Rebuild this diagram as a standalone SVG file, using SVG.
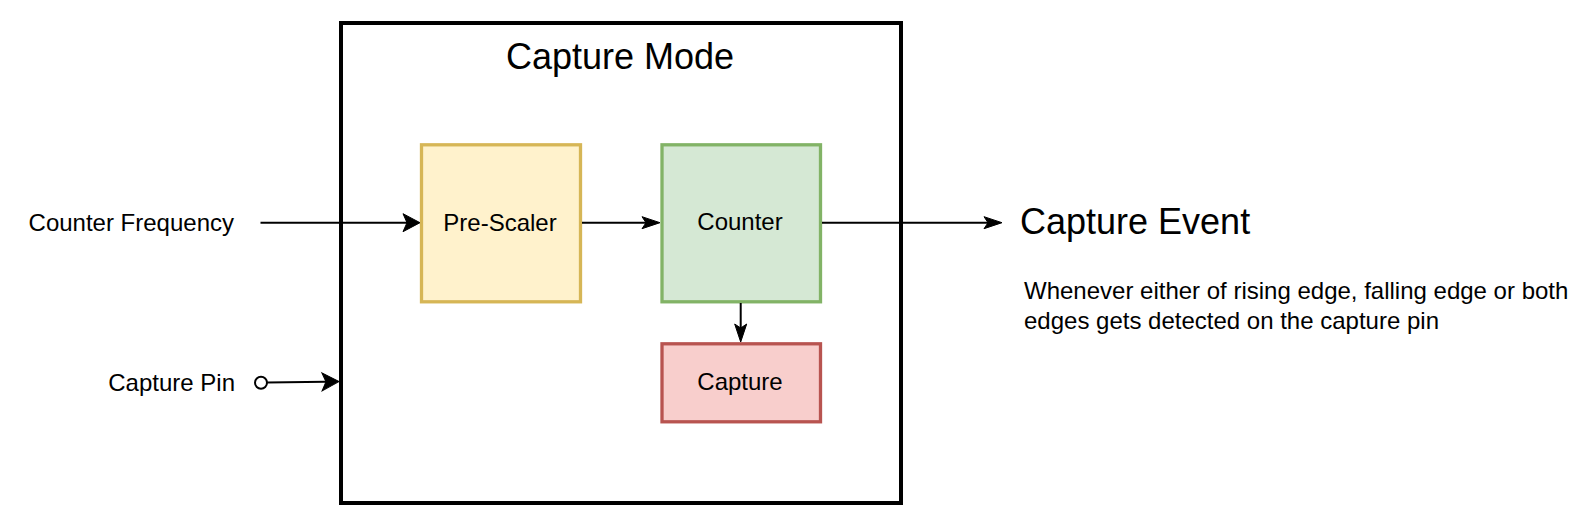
<svg xmlns="http://www.w3.org/2000/svg" width="1590" height="524" viewBox="0 0 1590 524">
<style>
text { font-family: "Liberation Sans", Arial, sans-serif; fill: #000; }
.lbl { font-size: 24px; }
.big { font-size: 36px; }
.edge { stroke: #000; stroke-width: 2; fill: none; }
.box { stroke-width: 3.3; }
</style>
<defs>
<marker id="aBig" markerUnits="userSpaceOnUse" markerWidth="20" markerHeight="20" viewBox="-5 -10 20 20" refX="0" refY="0" orient="auto" overflow="visible">
<path d="M-4,-9 L13,0 L-4,9 L0,0 Z" fill="#000" stroke="#000" stroke-width="1"/>
</marker>
<marker id="aSm" markerUnits="userSpaceOnUse" markerWidth="20" markerHeight="20" viewBox="-5 -10 20 20" refX="0" refY="0" orient="auto" overflow="visible">
<path d="M-4,-6 L14,0 L-4,6 L0,0 Z" fill="#000" stroke="#000" stroke-width="1"/>
</marker>
</defs>
<rect width="1590" height="524" fill="#fff"/>

<g id="capture-mode">
<rect x="341" y="23" width="560" height="480" fill="#fff" stroke="#000" stroke-width="4"/>
<text class="big" x="620" y="69" text-anchor="middle">Capture Mode</text>
</g>

<g id="pre-scaler">
<rect class="box" x="421.5" y="144.8" width="159" height="157" fill="#fff2cc" stroke="#d6b656"/>
<text class="lbl" x="500" y="230.5" text-anchor="middle">Pre-Scaler</text>
</g>

<g id="counter">
<rect class="box" x="662" y="144.8" width="158.5" height="157" fill="#d5e8d4" stroke="#82b366"/>
<text class="lbl" x="740" y="230" text-anchor="middle">Counter</text>
</g>

<g id="capture">
<rect class="box" x="662" y="343.8" width="158.5" height="78" fill="#f8cecc" stroke="#b85450"/>
<text class="lbl" x="740" y="389.5" text-anchor="middle">Capture</text>
</g>

<g id="counter-frequency">
<text class="lbl" x="234" y="230.5" text-anchor="end">Counter Frequency</text>
</g>

<g id="capture-pin">
<text class="lbl" x="235" y="391" text-anchor="end">Capture Pin</text>
</g>

<g id="capture-event">
<text class="big" x="1020" y="234">Capture Event</text>
</g>

<g id="description">
<text class="lbl" x="1024" y="299">Whenever either of rising edge, falling edge or both</text>
<text class="lbl" x="1024" y="328.5">edges gets detected on the capture pin</text>
</g>

<g id="connectors">
<line class="edge" x1="260.5" y1="222.7" x2="407" y2="222.7" marker-end="url(#aBig)"/>
<line class="edge" x1="582" y1="222.7" x2="646" y2="222.7" marker-end="url(#aSm)"/>
<line class="edge" x1="822" y1="222.7" x2="988" y2="222.7" marker-end="url(#aSm)"/>
<line class="edge" x1="740.7" y1="303" x2="740.7" y2="328" marker-end="url(#aSm)"/>
<line class="edge" x1="267" y1="382.6" x2="326" y2="381.8" marker-end="url(#aBig)"/>
<circle cx="261" cy="382.7" r="6" fill="#fff" stroke="#000" stroke-width="2"/>
</g>
</svg>
